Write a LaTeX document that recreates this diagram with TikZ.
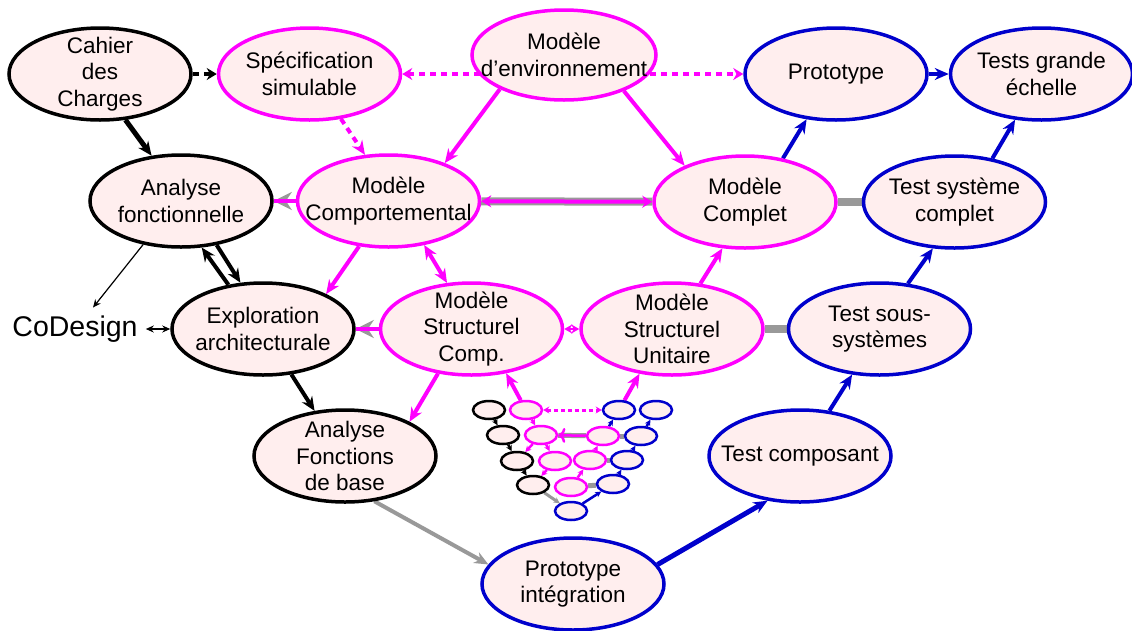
\documentclass[tikz,border=0pt]{standalone}
\usepackage{fontspec}
\setmainfont{Liberation Sans}
\usepackage{tikz}
\usetikzlibrary{arrows.meta,positioning,shapes.geometric,backgrounds}
\definecolor{rose}{HTML}{FFEEEE}
\definecolor{vmag}{HTML}{FF00FF}
\definecolor{vblue}{HTML}{0000CC}
\definecolor{vgray}{HTML}{999999}

\begin{document}
\begin{tikzpicture}[x=1pt,y=-1pt,font=\fontsize{22.5}{26.5}\selectfont,
  phase/.style={ellipse,line width=3.5pt,fill=rose,align=center,inner sep=-40pt,
    minimum width=182pt,minimum height=92pt},
  blk/.style={phase,draw=black},
  mag/.style={phase,draw=vmag},
  blu/.style={phase,draw=vblue},
  mini/.style={ellipse,line width=2.5pt,fill=rose,inner sep=0pt,minimum width=32pt,minimum height=18pt},
  tipb/.style={-{Stealth[length=14pt,width=12pt]}},
  lk/.style={line width=4pt,tipb},
  lm/.style={vmag,line width=4pt,tipb},
  lb/.style={vblue,line width=4pt,tipb},
  lg/.style={vgray,line width=4pt,tipb},
  gbar/.style={vgray,line width=8pt},
  dotl/.style={line width=4pt,dash pattern=on 6pt off 5pt},
  thin/.style={line width=1.2pt,-{Stealth[length=8pt,width=7pt]}},
  sm/.style={line width=2.5pt,-{Stealth[length=6pt,width=6pt]}}]
\useasboundingbox (0,0) rectangle (1132,630);
% top row
\node[blk] (cdc) at (100,74) {Cahier\\des\\Charges};
\node[mag,right=24pt of cdc] (spec) {Spécification\\simulable};
\node[mag,minimum width=184pt,minimum height=90pt] (env) at (564,55) {Modèle\\d’environnement};
\node[blu] (proto) at (836,74) {Prototype};
\node[blu,right=20pt of proto] (tge) {Tests grande\\échelle};
% second row
\node[blk] (af) at (181,201) {Analyse\\fonctionnelle};
\node[mag,right=22pt of af] (mc) {Modèle\\Comportemental};
\node[mag] (mcp) at (745,202) {Modèle\\Complet};
\node[blu,right=24pt of mcp] (tsc) {Test système\\complet};
% third row
\node[font=\fontsize{28.5}{32}\selectfont,inner sep=8pt] (codesign) at (75,329) {CoDesign};
\node[blk] (ea) at (263,329) {Exploration\\architecturale};
\node[mag,right=23pt of ea] (msc) {Modèle\\Structurel\\Comp.};
\node[mag,right=15pt of msc] (msu) {Modèle\\Structurel\\Unitaire};
\node[blu,right=22pt of msu] (tss) {Test sous-\\systèmes};
% bottom
\node[blk] (afb) at (345,456) {Analyse\\Fonctions\\de base};
\node[blu] (tc) at (800,456) {Test composant};
\node[blu] (pi) at (573,584) {Prototype\\intégration};
% small V
\foreach \n/\c/\x/\y in {vk1/black/489/410,vm1/vmag/526/410,vb1/vblue/619/410,vb1r/vblue/656/410,
  vk2/black/503/435,vm2/vmag/541/435,vm2r/vmag/603/436,vb2/vblue/641/436,
  vk3/black/517/461,vm3/vmag/555/461,vm3r/vmag/590/460,vb3/vblue/627/460,
  vk4/black/533/485,vm4/vmag/571/487,vb4/vblue/613/484,vb5/vblue/571/511}
  \node[mini,draw=\c] (\n) at (\x,\y) {};

\begin{scope}[on background layer]
\fill[white] (0,0) rectangle (1132,630);
\draw[dotl,-{Stealth[length=10pt,width=12pt]}] (cdc) -- (spec);
\draw[vmag,dotl,{Stealth[length=10pt,width=12pt]}-{Stealth[length=10pt,width=12pt]}] (spec) -- (proto);
\draw[lb] (proto) -- (tge);
\draw[lm,dotl] (spec.-55) -- (mc.117);
\draw[lm] (env.208) -- (mc.34);
\draw[lm] (env.-31) -- (mcp.149);
\draw[lb] (mcp.49) -- (proto.237);
\draw[lb] (tsc.49) -- (tge.240);
\draw[lk,line width=5pt] (cdc.-61) -- (af.123);
\draw[lg,-{Stealth[length=18pt,width=18pt]}] (mc) -- (af);
\draw[vmag,line width=4pt] (mc) -- (af);
\draw[gbar] (mc) -- (mcp);
\draw[vmag,line width=4pt,{Stealth[length=10pt,width=12pt]}-{Stealth[length=10pt,width=12pt]}] (mc) -- (mcp);
\draw[gbar] (mcp) -- (tsc);
\draw[thin] (af.229) -- (codesign.50);
\draw[thin,{Stealth[length=8pt,width=7pt]}-{Stealth[length=8pt,width=7pt]}] (codesign) -- (ea);
\draw[lk] (ea.128) -- (af.-66);
\draw[lk] (af.-51) -- (ea.116);
\draw[lm] (mc.237) -- (ea.29);
\draw[lm,{Stealth[length=14pt,width=12pt]}-{Stealth[length=14pt,width=12pt]}] (mc.-51) -- (msc.118);
\draw[lg,-{Stealth[length=18pt,width=18pt]}] (msc) -- (ea);
\draw[vmag,line width=4pt] (msc) -- (ea);
\draw[vmag,line width=2pt,{Stealth[length=8pt,width=9pt]}-{Stealth[length=8pt,width=9pt]}] (msc) -- (msu);
\draw[gbar] (msu) -- (tss);
\draw[lm] (msu.58) -- (mcp.244);
\draw[lb] (tss.58) -- (tsc.245);
\draw[lk] (ea.-58) -- (afb.124);
\draw[lm] (msc.233) -- (afb.28);
\draw[lb] (tc.57) -- (tss.239);
\draw[lg] (afb.-57) -- (pi.167);
\draw[lb,line width=5pt] (pi.13) -- (tc.234);
\draw[lm] (vm1) -- (msc.-52);
\draw[lm] (vb1) -- (msu.234);
% small V links
\draw[sm] (vk1) -- (vk2);
\draw[sm] (vk2) -- (vk3);
\draw[sm] (vk3) -- (vk4);
\draw[sm,vgray,line width=3pt] (vk4) -- (vb5);
\draw[sm,vblue] (vb5) -- (vb4);
\draw[sm,vblue] (vb4) -- (vb3);
\draw[sm,vblue] (vb3) -- (vb2);
\draw[sm,vblue] (vb2) -- (vb1r);
\draw[sm,vblue] (vm2r) -- (vb1);
\draw[sm,vmag] (vm1) -- (vm2);
\draw[sm,vmag] (vm2) -- (vm3);
\draw[sm,vmag] (vm2) -- (vk3);
\draw[sm,vmag] (vm3) -- (vk4);
\draw[sm,vmag] (vm3r) -- (vm2r);
\draw[sm,vmag] (vm4) -- (vm3r);
\draw[line width=5pt,vgray] (vm2) -- (vm2r);
\draw[sm,vmag,<-] (vm2) -- (vm2r);
\draw[line width=5pt,vgray] (vm2r) -- (vb2);
\draw[line width=5pt,vgray] (vm3r) -- (vb3);
\draw[line width=5pt,vgray] (vm4) -- (vb4);
\draw[vmag,line width=3pt,dash pattern=on 4pt off 3pt,{Stealth[length=6pt,width=7pt]}-{Stealth[length=6pt,width=7pt]}] (vm1) -- (vb1);
\end{scope}
\end{tikzpicture}
\end{document}
